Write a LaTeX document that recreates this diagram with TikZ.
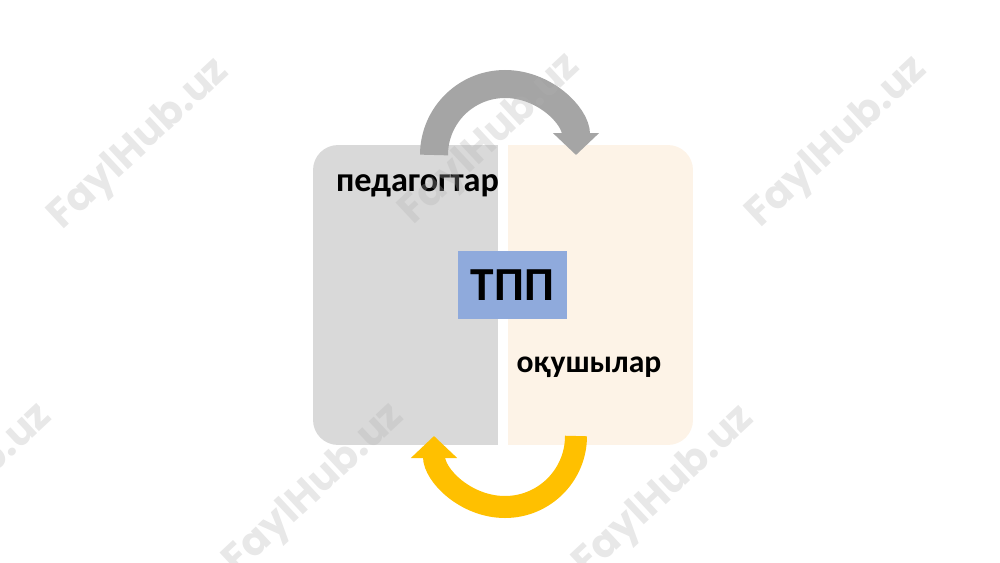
\documentclass[tikz,border=0pt]{standalone}
\usepackage{fontspec}
\newfontfamily\labelfont{Carlito}
\newfontfamily\wmfont{Poppins}
\usepackage{tikz}
\usetikzlibrary{positioning,arrows.meta}
\definecolor{boxgrey}{HTML}{D9D9D9}
\definecolor{boxcream}{HTML}{FDF3E7}
\definecolor{arrowgrey}{HTML}{A5A5A5}
\definecolor{arrowgold}{HTML}{FFC000}
\definecolor{tppblue}{HTML}{8FAADC}
\tikzset{side/.style={rectangle,rounded corners=0.5cm,minimum width=3.7cm,minimum height=6cm,inner sep=0pt}}
\tikzset{grouplabel/.style={font=\labelfont\bfseries\fontsize{19.5}{23}\selectfont,anchor=base,inner sep=0pt}}
\tikzset{turn/.style={-{Triangle[width=0.9cm,length=0.44cm]}}}
\tikzset{watermark/.style={font=\wmfont\bfseries\fontsize{23}{27}\selectfont,text=gray!60,opacity=0.3,rotate=43}}

\begin{document}
\begin{tikzpicture}[x=0.02cm,y=0.02cm]
\useasboundingbox (0,0) rectangle (1000,562);
\clip (0,0) rectangle (1000,562);
% the two halves
\node[side,fill=boxgrey] (pedbox) at (405.5,267) {};
\fill[boxgrey] (450,117) rectangle (498,417);
\node[side,fill=boxcream] (oqbox) at (600.5,267) {};
\fill[boxcream] (508,117) rectangle (560,417);
\node[grouplabel] (pedagog) at (417.5,371) {педагогтар};
\node[grouplabel,font=\labelfont\bfseries\fontsize{18}{22}\selectfont] (oqushy) at (589,190) {оқушылар};
\node[fill=tppblue,minimum width=2.18cm,minimum height=1.36cm,inner sep=0pt,
  font=\labelfont\bfseries\fontsize{27}{30}\selectfont] (tpp) at (512.5,277) {ТПП};
% arrows round the halves
\coordinate (topstart) at (434,407);
\draw[arrowgrey,line width=0.56cm,turn] (topstart) arc[start angle=180,end angle=0,radius=71];
\coordinate (botstart) at (576,126);
\draw[arrowgold,line width=0.44cm,turn] (botstart) arc[start angle=0,end angle=-180,radius=71];
% watermark
\foreach \wx/\wy [count=\i] in {140/417,491/422,838/419,-37/72,315/72,665/70}
  \node[watermark] (wm\i) at (\wx,\wy) {FaylHub.uz};
\end{tikzpicture}
\end{document}
